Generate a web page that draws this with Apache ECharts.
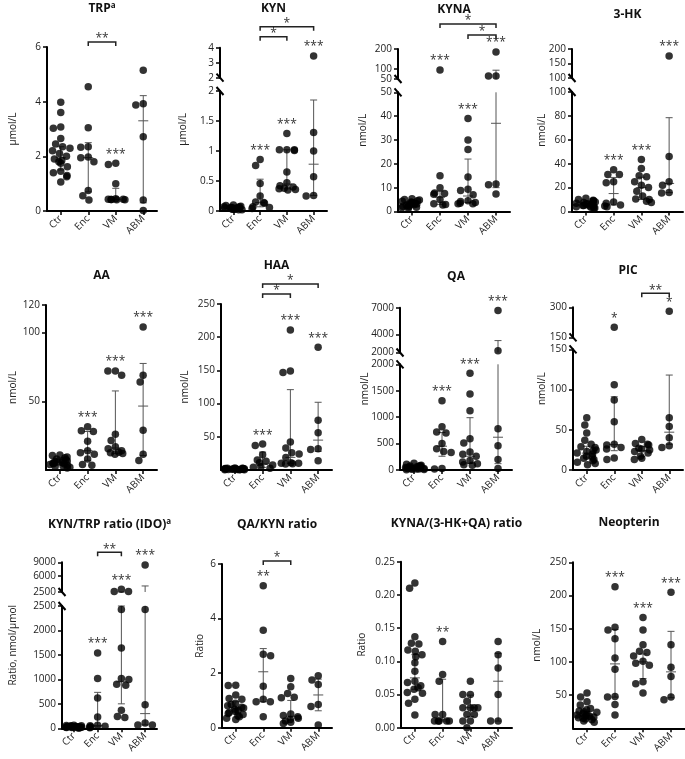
<!DOCTYPE html>
<html><head><meta charset="utf-8">
<script src="https://cdn.jsdelivr.net/npm/echarts@6/dist/echarts.min.js"></script>
<style>html,body{margin:0;padding:0;background:#fff}#c{width:685px;height:759px}</style>
</head><body><div id="c"></div><script>
const GROUPS = ['Ctr', 'Enc', 'VM', 'ABM'];

// ---- TRP (µmol/L) ----
const TRP_Ctr = [3.98, 3.6, 3.07, 3.03, 2.65, 2.45, 2.35, 2.3, 2.2, 2.1, 2.0, 1.9, 1.85, 1.8, 1.75, 1.62, 1.45, 1.4, 1.3, 1.25, 1.06];
const TRP_Enc = [4.55, 3.05, 2.35, 2.33, 1.98, 1.95, 1.8, 0.75, 0.56, 0.4];
const TRP_VM = [1.75, 1.7, 1.0, 0.45, 0.43, 0.43, 0.42, 0.42, 0.41, 0.41];
const TRP_ABM = [5.15, 3.92, 3.88, 2.72, 0.4, 0.02];
const TRP_med = [1.95, 1.95, 0.43, 3.3], TRP_lo = [1.5, 0.7, 0.42, 0.3], TRP_hi = [2.35, 2.5, 0.83, 4.22];
const TRP_stars = ['', '', '***', ''];
const TRP_brackets = [[1, 2, '**']];
const TRP_ticks = [0, 2, 4, 6];

// ---- KYN (µmol/L) ----
const KYN_Ctr = [0.1, 0.09, 0.08, 0.07, 0.07, 0.06, 0.06, 0.05, 0.05, 0.05, 0.05, 0.04, 0.04, 0.04, 0.04, 0.03, 0.03, 0.03, 0.02, 0.02];
const KYN_Enc = [0.86, 0.76, 0.46, 0.25, 0.15, 0.14, 0.13, 0.07, 0.06, 0.04];
const KYN_VM = [1.29, 1.02, 1.02, 1.02, 1.01, 0.65, 0.47, 0.42, 0.4, 0.38, 0.37, 0.36, 0.35];
const KYN_ABM = [3.45, 1.31, 1.0, 0.57, 0.26, 0.25];
const KYN_med = [0.05, 0.14, 0.45, 0.78], KYN_lo = [0.03, 0.07, 0.37, 0.26], KYN_hi = [0.07, 0.53, 1.02, 1.85];
const KYN_stars = ['', '***', '***', '***'];
const KYN_brackets = [[1, 2, '*'], [1, 3, '*']];
const KYN_ticks = [0, 0.5, 1, 1.5, 2];
const KYN_ticksUp = [2, 3, 4];

// ---- KYNA (nmol/L) ----
const KYNA_Ctr = [5.3, 5.0, 4.8, 4.5, 4.3, 4.0, 3.8, 3.6, 3.5, 3.3, 3.1, 3.0, 2.8, 2.6, 2.4, 2.2, 2.0, 1.8, 1.6, 1.4];
const KYNA_Enc = [95, 15, 10, 7.8, 7.5, 7.2, 5, 3.2, 2.9, 2.7];
const KYNA_VM = [39, 30, 26, 14.5, 9.3, 8.8, 7, 4.5, 4.2, 3.8, 3.5, 3.3, 3.2];
const KYNA_ABM = [185, 65, 65, 11.5, 11.2, 7.3];
const KYNA_med = [3.3, 6, 6.5, 37], KYNA_lo = [2.4, 3.0, 3.8, 10], KYNA_hi = [4.3, 8.5, 22, 94];
const KYNA_stars = ['', '***', '***', '***'];
const KYNA_brackets = [[2, 3, '*'], [1, 3, '*']];
const KYNA_ticks = [0, 10, 20, 30, 40, 50];
const KYNA_ticksUp = [50, 100, 200];

// ---- 3-HK (nmol/L) ----
const HK_Ctr = [11, 10, 9.5, 9, 8.5, 8, 7.5, 7, 6.5, 6, 6, 5.5, 5, 5, 4.5, 4, 4, 3.5, 3, 2.5];
const HK_Enc = [35, 31, 31, 25, 24, 8, 7, 5.5, 4.5, 4];
const HK_VM = [43.5, 36, 30, 29, 25, 22, 20, 17, 13, 10.5, 10, 8.5, 7.5];
const HK_ABM = [176, 46, 25, 22, 16, 15.5];
const HK_med = [6.5, 15, 20, 23.5], HK_lo = [4.5, 5.5, 10, 15.8], HK_hi = [8.5, 28.5, 28.7, 78.5];
const HK_stars = ['', '***', '***', '***'];
const HK_brackets = [];
const HK_ticks = [0, 20, 40, 60, 80, 100];
const HK_ticksUp = [100, 150, 200];

// ---- AA (nmol/L) ----
const AA_Ctr = [11, 10.5, 9.5, 9, 8, 7.5, 7, 6.5, 6, 6, 5.5, 5, 4.5, 4.5, 4, 3.5, 3, 2.5, 2, 1.5];
const AA_Enc = [31.5, 28.5, 28, 21, 14, 12.5, 11.5, 8, 4, 3.5];
const AA_VM = [72, 72, 69, 26, 21.5, 17, 15.5, 14, 13, 12.5, 12, 11.5];
const AA_ABM = [104, 69, 64, 29, 11.5, 7];
const AA_med = [5.5, 14, 16, 46.5], AA_lo = [3.5, 7, 12, 10.5], AA_hi = [8, 28, 57.5, 77.5];
const AA_stars = ['', '***', '***', '***'];
const AA_brackets = [];
const AA_ticks = [50, 100, 120];

// ---- HAA (nmol/L) ----
const HAA_Ctr = [3, 2.8, 2.6, 2.4, 2.2, 2, 1.9, 1.8, 1.6, 1.5, 1.4, 1.3, 1.2, 1, 0.9, 0.8, 0.6, 0.5, 0.4, 0.3];
const HAA_Enc = [39, 37, 23, 15, 13, 11, 7.5, 5, 4, 2.5];
const HAA_VM = [211, 149, 147, 42, 33, 26, 24, 19, 11, 10, 10, 9.5, 9];
const HAA_ABM = [185, 75, 56, 32, 31, 14];
const HAA_med = [1.4, 9, 19, 45], HAA_lo = [0.8, 4, 10, 28], HAA_hi = [2.2, 27, 121, 102];
const HAA_stars = ['', '***', '***', '***'];
const HAA_brackets = [[1, 2, '*'], [1, 3, '*']];
const HAA_ticks = [50, 100, 150, 200, 250];

// ---- QA (nmol/L) ----
const QA_Ctr = [130, 110, 90, 80, 75, 70, 60, 55, 50, 45, 40, 40, 35, 30, 25, 20, 20, 15, 10, 5];
const QA_Enc = [1310, 820, 720, 700, 500, 400, 350, 330, 30, 20];
const QA_VM = [1830, 1440, 1120, 590, 510, 340, 300, 260, 180, 150, 120, 100, 90];
const QA_ABM = [6700, 2200, 780, 460, 200, 30];
const QA_med = [40, 450, 260, 620], QA_lo = [20, 260, 125, 120], QA_hi = [80, 710, 990, 3330];
const QA_stars = ['', '***', '***', '***'];
const QA_brackets = [];
const QA_ticks = [0, 500, 1000, 1500, 2000];
const QA_ticksUp = [2000, 4000, 7000];

// ---- PIC (nmol/L) ----
const PIC_Ctr = [65, 56, 46, 37, 32, 29, 28, 25, 24, 23, 21, 20, 17, 16.5, 14.5, 13, 11.5, 9.5, 8, 6.5];
const PIC_Enc = [200, 106, 87, 60, 32, 31, 28, 26, 15, 13];
const PIC_VM = [38, 33, 32, 31, 27, 26, 25, 23, 21, 17, 14.5, 13];
const PIC_ABM = [280, 65, 54, 40, 30, 28];
const PIC_med = [21, 31.5, 24, 47], PIC_lo = [15, 24, 16.5, 32], PIC_hi = [29.5, 91, 29, 118];
const PIC_stars = ['', '*', '', '*'];
const PIC_brackets = [[2, 3, '**']];
const PIC_ticks = [0, 50, 100, 150];
const PIC_ticksUp = [150, 300];

// ---- KYN/TRP ratio (IDO) (nmol/µmol) ----
const IDO_Ctr = [60, 55, 50, 45, 40, 40, 35, 35, 30, 30, 25, 25, 20, 20, 20, 15, 15, 10, 10, 5];
const IDO_Enc = [1540, 1020, 620, 230, 60, 50, 40, 30, 20, 10];
const IDO_VM = [3100, 2600, 2600, 2430, 1640, 1020, 1000, 900, 880, 370, 240, 220];
const IDO_ABM = [8400, 2430, 480, 110, 70, 70];
const IDO_med = [25, 55, 950, 300], IDO_lo = [15, 30, 500, 70], IDO_hi = [40, 735, 2500, 3820];
const IDO_stars = ['', '***', '***', '***'];
const IDO_brackets = [[1, 2, '**']];
const IDO_ticks = [0, 500, 1000, 1500, 2000, 2500];
const IDO_ticksUp = [2500, 6000, 9000];

// ---- QA/KYN ratio ----
const QK_Ctr = [1.56, 1.55, 1.2, 1.07, 1.04, 0.9, 0.85, 0.8, 0.75, 0.72, 0.68, 0.65, 0.6, 0.56, 0.52, 0.48, 0.44, 0.4, 0.35, 0.3];
const QK_Enc = [5.2, 3.57, 2.69, 2.64, 1.52, 1.04, 0.95, 0.95, 0.4];
const QK_VM = [1.8, 1.5, 1.25, 1.12, 1.1, 0.5, 0.45, 0.4, 0.35, 0.3, 0.25, 0.2, 0.15];
const QK_ABM = [1.9, 1.75, 1.58, 0.85, 0.78, 0.1];
const QK_med = [0.72, 2.05, 0.42, 1.2], QK_lo = [0.5, 0.95, 0.28, 0.62], QK_hi = [0.95, 2.9, 1.0, 1.78];
const QK_stars = ['', '**', '', ''];
const QK_brackets = [[1, 2, '*']];
const QK_ticks = [0, 2, 4, 6];

// ---- KYNA/(3-HK+QA) ratio ----
const KR_Ctr = [0.218, 0.21, 0.137, 0.127, 0.126, 0.117, 0.115, 0.11, 0.107, 0.098, 0.085, 0.07, 0.068, 0.063, 0.06, 0.058, 0.053, 0.052, 0.043, 0.037, 0.019];
const KR_Enc = [0.13, 0.08, 0.07, 0.02, 0.02, 0.01, 0.01, 0.01, 0.01, 0.01];
const KR_VM = [0.07, 0.05, 0.05, 0.04, 0.03, 0.03, 0.03, 0.03, 0.02, 0.02, 0.01, 0.01, 0.0];
const KR_ABM = [0.13, 0.11, 0.09, 0.05, 0.01, 0.01];
const KR_med = [0.075, 0.012, 0.03, 0.07], KR_lo = [0.058, 0.01, 0.017, 0.01], KR_hi = [0.11, 0.073, 0.049, 0.112];
const KR_stars = ['', '**', '', ''];
const KR_brackets = [];
const KR_ticks = [0, 0.05, 0.1, 0.15, 0.2, 0.25];

// ---- Neopterin (nmol/L) ----
const NEO_Ctr = [53, 47, 40, 35, 30, 28, 26, 25, 24, 22, 21, 20, 19, 18, 17, 16, 15, 14, 13, 11, 9];
const NEO_Enc = [213, 152, 148, 135, 106, 89, 48, 47, 36, 20];
const NEO_VM = [167, 148, 126, 116, 114, 109, 101, 98, 95, 70, 67, 53];
const NEO_ABM = [205, 126, 92, 78, 47, 43];
const NEO_med = [19, 97, 100, 85], NEO_lo = [14, 47, 75, 46], NEO_hi = [25, 149, 112, 146];
const NEO_stars = ['', '***', '***', '***'];
const NEO_brackets = [];
const NEO_ticks = [50, 100, 150, 200, 250];

// ---------- panel layout ----------
const PANELS = [
  {title: 'TRP', sup: 'a', yName: 'µmol/L', g: [TRP_Ctr, TRP_Enc, TRP_VM, TRP_ABM], med: TRP_med, lo: TRP_lo, hi: TRP_hi, stars: TRP_stars, br: TRP_brackets,
   lower: [0, 6, TRP_ticks], l: 47, r: 157, t: 47, b: 211, gap: 29, ty: 9, brOff: [5]},
  {title: 'KYN', yName: 'µmol/L', g: [KYN_Ctr, KYN_Enc, KYN_VM, KYN_ABM], med: KYN_med, lo: KYN_lo, hi: KYN_hi, stars: KYN_stars, br: KYN_brackets,
   lower: [0, 2, KYN_ticks], upper: [2, 4, KYN_ticksUp], l: 220, r: 327, t: 91, b: 211, ut: 47.7, ub: 77.7, gap: 32, ty: 9, brOff: [11, 21]},
  {title: 'KYNA', yName: 'nmol/L', g: [KYNA_Ctr, KYNA_Enc, KYNA_VM, KYNA_ABM], med: KYNA_med, lo: KYNA_lo, hi: KYNA_hi, stars: KYNA_stars, br: KYNA_brackets,
   lower: [0, 50, KYNA_ticks], upper: [50, 200, KYNA_ticksUp], l: 398, r: 510, t: 92.3, b: 211.5, ut: 49, ub: 79, gap: 30, ty: 10, brOff: [14, 25]},
  {title: '3-HK', yName: 'nmol/L', g: [HK_Ctr, HK_Enc, HK_VM, HK_ABM], med: HK_med, lo: HK_lo, hi: HK_hi, stars: HK_stars, br: HK_brackets,
   lower: [0, 100, HK_ticks], upper: [100, 200, HK_ticksUp], l: 572, r: 683, t: 92, b: 211.5, ut: 49, ub: 78, gap: 25, ty: 15, brOff: []},
  {title: 'AA', yName: 'nmol/L', g: [AA_Ctr, AA_Enc, AA_VM, AA_ABM], med: AA_med, lo: AA_lo, hi: AA_hi, stars: AA_stars, br: AA_brackets,
   lower: [0, 120, AA_ticks], l: 46, r: 157, t: 305, b: 470, gap: 28, ty: 276, brOff: []},
  {title: 'HAA', yName: 'nmol/L', g: [HAA_Ctr, HAA_Enc, HAA_VM, HAA_ABM], med: HAA_med, lo: HAA_lo, hi: HAA_hi, stars: HAA_stars, br: HAA_brackets,
   lower: [0, 250, HAA_ticks], l: 221, r: 332, t: 304, b: 470, gap: 31, ty: 266, brOff: [10, 20]},
  {title: 'QA', yName: 'nmol/L', g: [QA_Ctr, QA_Enc, QA_VM, QA_ABM], med: QA_med, lo: QA_lo, hi: QA_hi, stars: QA_stars, br: QA_brackets,
   lower: [0, 2000, QA_ticks], upper: [2000, 7000, QA_ticksUp], l: 400, r: 512, t: 364.3, b: 470, ut: 307.7, ub: 352.5, gap: 30, ty: 277, brOff: []},
  {title: 'PIC', yName: 'nmol/L', g: [PIC_Ctr, PIC_Enc, PIC_VM, PIC_ABM], med: PIC_med, lo: PIC_lo, hi: PIC_hi, stars: PIC_stars, br: PIC_brackets,
   lower: [0, 150, PIC_ticks], upper: [150, 300, PIC_ticksUp], l: 573, r: 683, t: 349.3, b: 470, ut: 307.3, ub: 337.3, gap: 26, ty: 271, brOff: [14]},
  {title: 'KYN/TRP ratio (IDO)', sup: 'a', yName: 'Ratio, nmol/µmol', g: [IDO_Ctr, IDO_Enc, IDO_VM, IDO_ABM], med: IDO_med, lo: IDO_lo, hi: IDO_hi, stars: IDO_stars, br: IDO_brackets,
   lower: [0, 2500, IDO_ticks], upper: [2500, 9000, IDO_ticksUp], l: 62, r: 157, t: 606, b: 728.3, ut: 562.3, ub: 592, gap: 44, ty: 525, brOff: [10]},
  {title: 'QA/KYN ratio', yName: 'Ratio', g: [QK_Ctr, QK_Enc, QK_VM, QK_ABM], med: QK_med, lo: QK_lo, hi: QK_hi, stars: QK_stars, br: QK_brackets,
   lower: [0, 6, QK_ticks], l: 222, r: 332, t: 564, b: 727.7, gap: 17, ty: 525, brOff: [3]},
  {title: 'KYNA/(3-HK+QA) ratio', yName: 'Ratio', g: [KR_Ctr, KR_Enc, KR_VM, KR_ABM], med: KR_med, lo: KR_lo, hi: KR_hi, stars: KR_stars, br: KR_brackets,
   lower: [0, 0.25, KR_ticks], dec: 2, l: 401, r: 512, t: 561.7, b: 727.7, gap: 34, ty: 524, brOff: []},
  {title: 'Neopterin', yName: 'nmol/L', g: [NEO_Ctr, NEO_Enc, NEO_VM, NEO_ABM], med: NEO_med, lo: NEO_lo, hi: NEO_hi, stars: NEO_stars, br: NEO_brackets,
   lower: [0, 250, NEO_ticks], l: 573, r: 685, t: 562.3, b: 728.3, gap: 31, ty: 523, brOff: []}
];

const FONT = '"Open Sans", "Noto Sans", sans-serif';
const BLACK = '#000';
const option = {animation: false, backgroundColor: '#fff', grid: [], xAxis: [], yAxis: [], series: [], graphic: []};

function hl(x, y, w, st) { return {type: 'line', shape: {x1: x - w, y1: y, x2: x + w, y2: y}, style: st}; }

PANELS.forEach(p => {
  const segs = [{min: p.lower[0], max: p.lower[1], ticks: p.lower[2], top: p.t, bottom: p.b, main: true}];
  if (p.upper) segs.push({min: p.upper[0], max: p.upper[1], ticks: p.upper[2], top: p.ut, bottom: p.ub, main: false});
  const topSeg = segs[segs.length - 1];
  const fmt = v => p.dec != null ? v.toFixed(p.dec) : String(v);

  segs.forEach(s => {
    const gi = option.grid.length;
    option.grid.push({left: p.l, top: s.top, width: p.r - p.l, height: s.bottom - s.top, outerBoundsMode: 'none'});
    option.xAxis.push({
      gridIndex: gi, type: 'category', data: GROUPS, boundaryGap: true, show: s.main,
      jitter: 22, jitterOverlap: false, jitterMargin: 0,
      axisLine: {lineStyle: {color: BLACK, width: 2}},
      axisTick: {show: true, alignWithLabel: true, length: 4, lineStyle: {color: BLACK, width: 1.5}},
      axisLabel: {rotate: 45, interval: 0, fontSize: 10, color: '#222', margin: 6, fontFamily: FONT}
    });
    option.yAxis.push({
      gridIndex: gi, type: 'value', min: s.min, max: s.max,
      axisLine: {show: true, lineStyle: {color: BLACK, width: 2}},
      axisTick: {show: true, length: 4, customValues: s.ticks, lineStyle: {color: BLACK, width: 1.5}},
      axisLabel: {customValues: s.ticks, formatter: fmt, fontSize: 10, color: '#222', margin: 6, fontFamily: FONT},
      splitLine: {show: false}
    });
    const ax = option.xAxis.length - 1;
    const pts = [];
    p.g.forEach((arr, i) => arr.forEach(v => {
      const inside = s.main ? v <= s.max : v > p.lower[1];
      if (inside) pts.push([i, v]);
    }));
    option.series.push({
      type: 'custom', xAxisIndex: ax, yAxisIndex: ax, clip: false, silent: true, z: 2,
      data: GROUPS.map((g, i) => [i, p.lo[i], p.med[i], p.hi[i], Math.max(...p.g[i])]),
      renderItem(params, api) {
        const i = api.value(0), lo = api.value(1), med = api.value(2), hi = api.value(3), mx = api.value(4);
        const inR = v => v >= s.min && v <= s.max;
        const x = api.coord([i, s.min])[0];
        const Y = v => api.coord([i, v])[1];
        const st = {stroke: '#555', lineWidth: 1};
        const ch = [];
        const a = Math.max(lo, s.min), b = Math.min(hi, s.max);
        if (b > a) ch.push({type: 'line', shape: {x1: x, y1: Y(a), x2: x, y2: Y(b)}, style: st});
        if (inR(lo)) ch.push(hl(x, Y(lo), 3.5, st));
        if (inR(hi)) ch.push(hl(x, Y(hi), 3.5, st));
        if (inR(med)) ch.push(hl(x, Y(med), 5, st));
        const star = p.stars[i];
        const here = s.main ? mx <= s.max : mx > p.lower[1];
        if (star && here) ch.push({type: 'text', x: x, y: Y(mx) - 3, style: {text: star, align: 'center', verticalAlign: 'bottom', fontSize: 12, fontFamily: FONT, fill: '#333'}});
        return {type: 'group', children: ch};
      }
    });
    option.series.push({
      type: 'scatter', xAxisIndex: ax, yAxisIndex: ax, data: pts, symbol: 'circle', symbolSize: 7.5,
      itemStyle: {color: BLACK}, z: 3, clip: false, silent: true
    });
    if (s === topSeg && p.br.length) {
      option.series.push({
        type: 'custom', xAxisIndex: ax, yAxisIndex: ax, clip: false, silent: true, z: 4,
        data: p.br.map((b, k) => [b[0], b[1], k]),
        renderItem(params, api) {
          const k = api.value(2);
          const x1 = api.coord([api.value(0), s.min])[0], x2 = api.coord([api.value(1), s.min])[0];
          const y = params.coordSys.y - p.brOff[k];
          return {type: 'group', children: [
            {type: 'polyline', shape: {points: [[x1, y + 4], [x1, y], [x2, y], [x2, y + 4]]}, style: {stroke: '#222', lineWidth: 1.5, fill: null}},
            {type: 'text', x: (x1 + x2) / 2, y: y + 3, style: {text: p.br[k][2], align: 'center', verticalAlign: 'bottom', fontSize: 12, fontFamily: FONT, fill: '#333'}}
          ]};
        }
      });
    }
  });

  // frame axis carrying the y-axis name, spanning the whole panel height
  const top = p.upper ? p.ut : p.t;
  const fg = option.grid.length;
  option.grid.push({left: p.l, top: top, width: p.r - p.l, height: p.b - top, outerBoundsMode: 'none'});
  option.xAxis.push({gridIndex: fg, type: 'value', show: false, min: 0, max: 1});
  option.yAxis.push({gridIndex: fg, type: 'value', min: 0, max: 1, axisLine: {show: false}, axisTick: {show: false}, axisLabel: {show: false}, splitLine: {show: false},
    name: p.yName, nameLocation: 'middle', nameGap: p.gap, nameTextStyle: {fontSize: 10, color: '#222', fontFamily: FONT}});

  // axis-break marks
  if (p.upper) {
    [p.ub, p.t].forEach(y => option.graphic.push({type: 'line', shape: {x1: p.l - 3.5, y1: y - 4, x2: p.l + 3.5, y2: y + 4}, style: {stroke: BLACK, lineWidth: 2}}));
  }
  // title
  option.graphic.push({type: 'text', x: (p.l + p.r) / 2, y: p.ty, style: {
    text: p.title + (p.sup ? '{s|' + p.sup + '}' : ''), align: 'center', verticalAlign: 'middle',
    fontSize: 12, fontWeight: 'bold', fontFamily: FONT, fill: '#111', lineHeight: 14,
    rich: {s: {fontSize: 8, fontWeight: 'bold', fontFamily: FONT, fill: '#111', verticalAlign: 'top', lineHeight: 8}}
  }});
});

const chart = echarts.init(document.getElementById('c'), null, {renderer: 'canvas'});
chart.setOption(option);
</script></body></html>
